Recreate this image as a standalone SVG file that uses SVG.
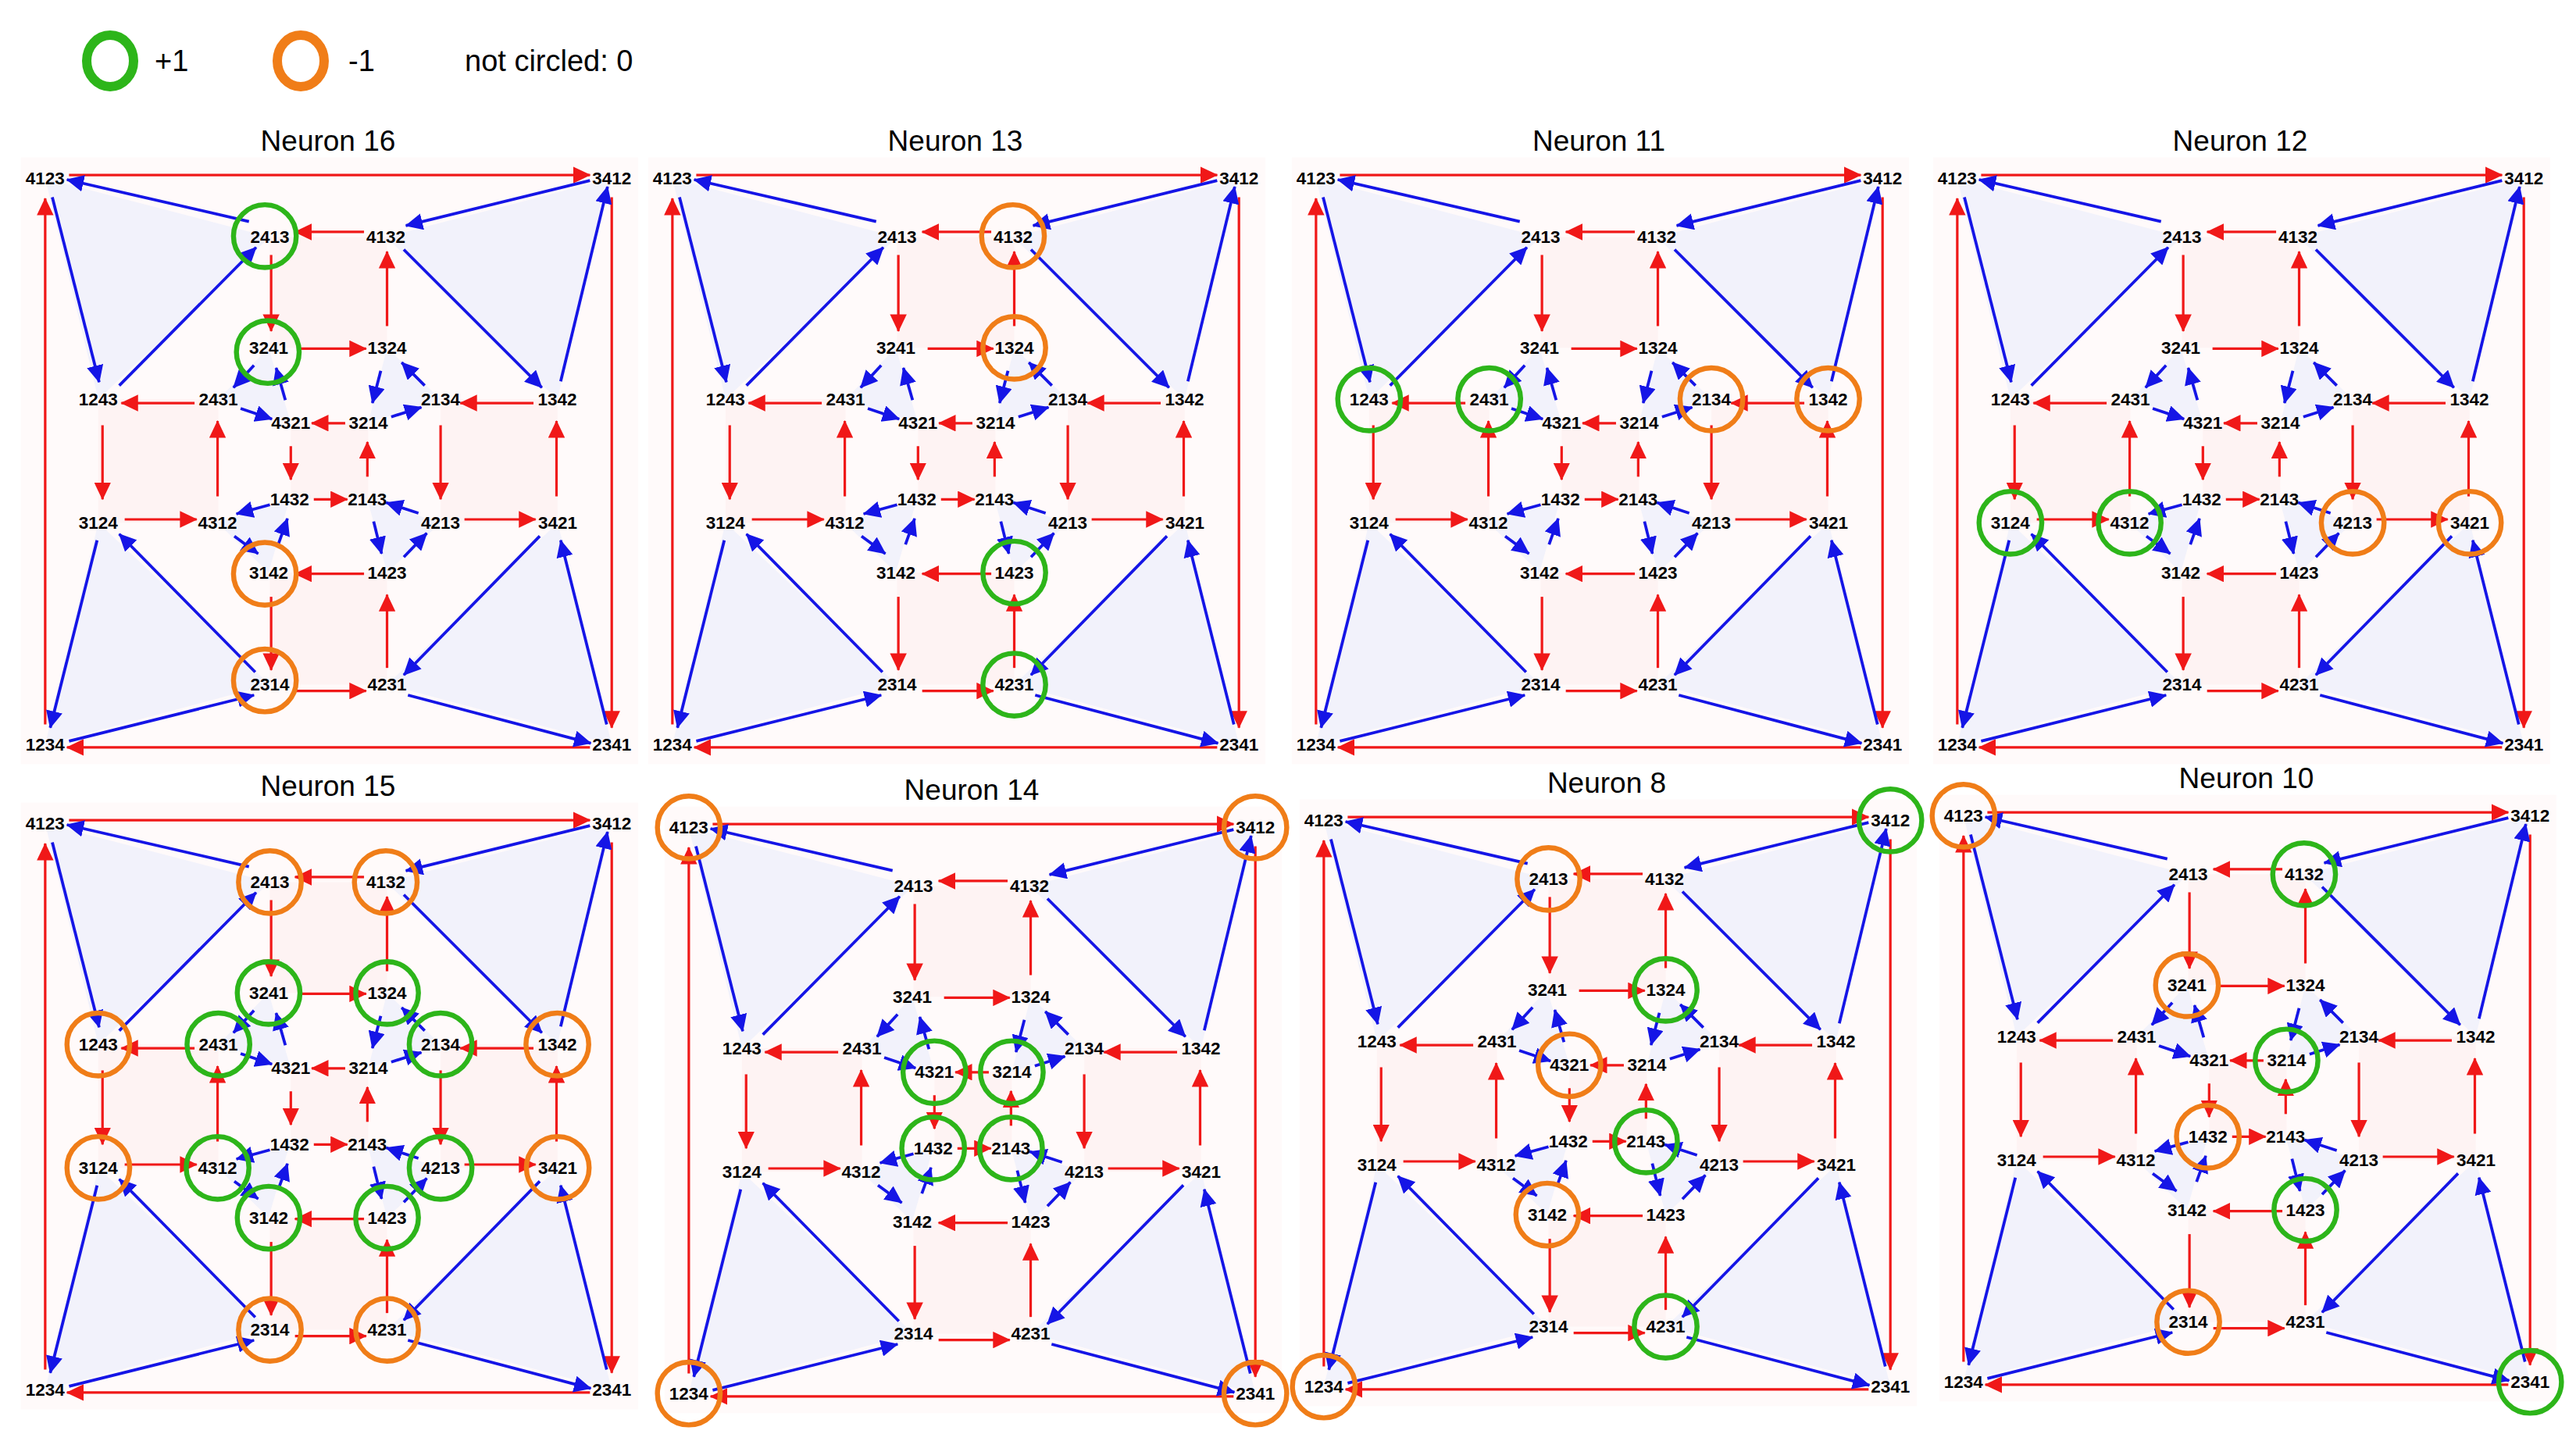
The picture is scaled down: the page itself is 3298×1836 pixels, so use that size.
<svg xmlns="http://www.w3.org/2000/svg" xmlns:xlink="http://www.w3.org/1999/xlink" width="3298" height="1836" viewBox="0 0 3298 1836">
<style>
.t{font-family:"Liberation Sans",Arial,sans-serif;font-weight:bold;font-size:42px;text-anchor:middle;dominant-baseline:central;fill:#000}
.title{font-family:"Liberation Sans",Arial,sans-serif;font-size:37px;text-anchor:middle;fill:#000}
.leg{font-family:"Liberation Sans",Arial,sans-serif;font-size:38px;fill:#000;dominant-baseline:central}
.r{stroke:#f01818;stroke-width:6;fill:none;marker-end:url(#ar)}
.b{stroke:#1515e6;stroke-width:7;fill:none;marker-end:url(#ab)}
.tri{fill:#f2f2fb}
.sq{fill:#fdeeee;opacity:.6}
.g{fill:none;stroke:#2db51a;stroke-width:12}
.o{fill:none;stroke:#f07d18;stroke-width:12}
</style>
<defs>
<marker id="ar" markerUnits="userSpaceOnUse" markerWidth="44" markerHeight="40" refX="40" refY="20" orient="auto"><path d="M0,0 L42,20 L0,40 z" fill="#f01818"/></marker>
<marker id="ab" markerUnits="userSpaceOnUse" markerWidth="44" markerHeight="40" refX="40" refY="20" orient="auto"><path d="M0,0 L42,20 L0,40 z" fill="#1515e6"/></marker>
<g id="base">
<rect x="50" y="115" width="1475" height="1450" fill="#fffafa"/>
<g id="shading">
<polygon class="sq" points="645,305 925,305 925,570 645,570"/>
<polygon class="sq" points="235,693 522,693 522,988 235,988"/>
<polygon class="sq" points="1053,693 1332,693 1332,988 1053,988"/>
<polygon class="sq" points="645,1107 925,1107 925,1375 645,1375"/>
<polygon class="sq" points="695,750 880,750 880,932 695,932"/>
<polygon class="tri" points="108,165 235,693 645,305"/>
<polygon class="tri" points="1462,165 1332,693 922,305"/>
<polygon class="tri" points="108,1518 235,988 645,1375"/>
<polygon class="tri" points="1462,1518 1333,988 925,1375"/>
<polygon class="tri" points="522,693 642,570 695,750"/>
<polygon class="tri" points="925,570 1053,693 880,750"/>
<polygon class="tri" points="520,988 692,932 642,1107"/>
<polygon class="tri" points="878,932 1053,988 925,1107"/>
</g>
<g id="connectors">
<line class="r" x1="165" y1="157" x2="1410" y2="157"/>
<line class="r" x1="1462" y1="210" x2="1462" y2="1478"/>
<line class="r" x1="1410" y1="1525" x2="160" y2="1525"/>
<line class="r" x1="108" y1="1470" x2="108" y2="213"/>
<line class="r" x1="870" y1="293" x2="705" y2="293"/>
<line class="r" x1="648" y1="348" x2="648" y2="530"/>
<line class="r" x1="718" y1="572" x2="875" y2="572"/>
<line class="r" x1="925" y1="518" x2="925" y2="340"/>
<line class="r" x1="1275" y1="702" x2="1100" y2="702"/>
<line class="r" x1="465" y1="702" x2="290" y2="702"/>
<line class="r" x1="245" y1="755" x2="245" y2="932"/>
<line class="r" x1="520" y1="925" x2="520" y2="745"/>
<line class="r" x1="825" y1="750" x2="745" y2="750"/>
<line class="r" x1="695" y1="805" x2="695" y2="885"/>
<line class="r" x1="878" y1="878" x2="878" y2="795"/>
<line class="r" x1="1053" y1="755" x2="1053" y2="932"/>
<line class="r" x1="1330" y1="925" x2="1330" y2="745"/>
<line class="r" x1="298" y1="980" x2="470" y2="980"/>
<line class="r" x1="750" y1="932" x2="830" y2="932"/>
<line class="r" x1="1110" y1="980" x2="1280" y2="980"/>
<line class="r" x1="870" y1="1110" x2="705" y2="1110"/>
<line class="r" x1="648" y1="1165" x2="648" y2="1340"/>
<line class="r" x1="925" y1="1335" x2="925" y2="1160"/>
<line class="r" x1="705" y1="1390" x2="875" y2="1390"/>
<line class="b" x1="595" y1="268" x2="160" y2="168"/>
<line class="b" x1="125" y1="210" x2="237" y2="652"/>
<line class="b" x1="285" y1="660" x2="612" y2="330"/>
<line class="b" x1="1410" y1="170" x2="970" y2="278"/>
<line class="b" x1="965" y1="335" x2="1295" y2="665"/>
<line class="b" x1="1340" y1="650" x2="1452" y2="185"/>
<line class="b" x1="607" y1="612" x2="558" y2="665"/>
<line class="b" x1="575" y1="715" x2="650" y2="740"/>
<line class="b" x1="682" y1="695" x2="660" y2="618"/>
<line class="b" x1="910" y1="625" x2="890" y2="702"/>
<line class="b" x1="935" y1="735" x2="1007" y2="712"/>
<line class="b" x1="1015" y1="660" x2="960" y2="605"/>
<line class="b" x1="645" y1="945" x2="565" y2="967"/>
<line class="b" x1="560" y1="1020" x2="617" y2="1062"/>
<line class="b" x1="665" y1="1040" x2="687" y2="978"/>
<line class="b" x1="1000" y1="965" x2="923" y2="940"/>
<line class="b" x1="893" y1="985" x2="912" y2="1062"/>
<line class="b" x1="965" y1="1070" x2="1020" y2="1013"/>
<line class="b" x1="610" y1="1345" x2="285" y2="1015"/>
<line class="b" x1="232" y1="1030" x2="120" y2="1478"/>
<line class="b" x1="165" y1="1510" x2="607" y2="1400"/>
<line class="b" x1="1290" y1="1020" x2="965" y2="1352"/>
<line class="b" x1="975" y1="1400" x2="1412" y2="1515"/>
<line class="b" x1="1450" y1="1470" x2="1340" y2="1030"/>
</g>
<g id="nodes">
<g id="n4123"><text class="t" x="108" y="165">4123</text></g>
<g id="n3412"><text class="t" x="1462" y="165">3412</text></g>
<g id="n1234"><text class="t" x="108" y="1518">1234</text></g>
<g id="n2341"><text class="t" x="1462" y="1518">2341</text></g>
<g id="n2413"><text class="t" x="645" y="305">2413</text></g>
<g id="n4132"><text class="t" x="922" y="305">4132</text></g>
<g id="n3241"><text class="t" x="642" y="570">3241</text></g>
<g id="n1324"><text class="t" x="925" y="570">1324</text></g>
<g id="n1243"><text class="t" x="235" y="693">1243</text></g>
<g id="n2431"><text class="t" x="522" y="693">2431</text></g>
<g id="n2134"><text class="t" x="1053" y="693">2134</text></g>
<g id="n1342"><text class="t" x="1332" y="693">1342</text></g>
<g id="n4321"><text class="t" x="695" y="750">4321</text></g>
<g id="n3214"><text class="t" x="880" y="750">3214</text></g>
<g id="n1432"><text class="t" x="692" y="932">1432</text></g>
<g id="n2143"><text class="t" x="878" y="932">2143</text></g>
<g id="n3124"><text class="t" x="235" y="988">3124</text></g>
<g id="n4312"><text class="t" x="520" y="988">4312</text></g>
<g id="n4213"><text class="t" x="1053" y="988">4213</text></g>
<g id="n3421"><text class="t" x="1333" y="988">3421</text></g>
<g id="n3142"><text class="t" x="642" y="1107">3142</text></g>
<g id="n1423"><text class="t" x="925" y="1107">1423</text></g>
<g id="n2314"><text class="t" x="645" y="1375">2314</text></g>
<g id="n4231"><text class="t" x="925" y="1375">4231</text></g>
</g>
</g>
<circle id="cg" class="g" r="75"/>
<circle id="co" class="o" r="75"/>
</defs>
<rect width="3298" height="1836" fill="#fff"/>
<g id="legend">
<ellipse class="g" cx="141" cy="78" rx="30" ry="33" stroke-width="7"/>
<text class="leg" x="198" y="78">+1</text>
<ellipse class="o" cx="385" cy="78" rx="30" ry="33" stroke-width="7"/>
<text class="leg" x="446" y="78">-1</text>
<text class="leg" x="595" y="78">not circled: 0</text>
</g>
<text class="title" x="420" y="193">Neuron 16</text>
<text class="title" x="1223" y="193">Neuron 13</text>
<text class="title" x="2047" y="193">Neuron 11</text>
<text class="title" x="2868" y="193">Neuron 12</text>
<text class="title" x="420" y="1019">Neuron 15</text>
<text class="title" x="1244" y="1024">Neuron 14</text>
<text class="title" x="2057" y="1015">Neuron 8</text>
<text class="title" x="2876" y="1009">Neuron 10</text>
<g id="p16" transform="translate(0,140) scale(0.5357)">
<use xlink:href="#base"/>
<use xlink:href="#cg" x="633" y="303"/><use xlink:href="#cg" x="640" y="580"/>
<use xlink:href="#co" x="633" y="1110"/><use xlink:href="#co" x="633" y="1365"/>
</g>
<g id="p13" transform="translate(803,140) scale(0.5357)">
<use xlink:href="#base"/>
<use xlink:href="#co" x="922" y="303"/><use xlink:href="#co" x="925" y="570"/>
<use xlink:href="#cg" x="925" y="1107"/><use xlink:href="#cg" x="925" y="1375"/>
</g>
<g id="p11" transform="translate(1627,140) scale(0.5357)">
<use xlink:href="#base"/>
<use xlink:href="#cg" x="235" y="693"/><use xlink:href="#cg" x="522" y="693"/>
<use xlink:href="#co" x="1053" y="693"/><use xlink:href="#co" x="1332" y="693"/>
</g>
<g id="p12" transform="translate(2448,140) scale(0.5357)">
<use xlink:href="#base"/>
<use xlink:href="#cg" x="235" y="988"/><use xlink:href="#cg" x="520" y="988"/>
<use xlink:href="#co" x="1053" y="988"/><use xlink:href="#co" x="1333" y="988"/>
</g>
<g id="p15" transform="translate(0,966) scale(0.5357)">
<use xlink:href="#base"/>
<use xlink:href="#co" x="645" y="305"/><use xlink:href="#co" x="922" y="305"/>
<use xlink:href="#co" x="235" y="693"/><use xlink:href="#co" x="1332" y="693"/>
<use xlink:href="#co" x="235" y="988"/><use xlink:href="#co" x="1333" y="988"/>
<use xlink:href="#co" x="645" y="1375"/><use xlink:href="#co" x="925" y="1375"/>
<use xlink:href="#cg" x="642" y="570"/><use xlink:href="#cg" x="925" y="570"/>
<use xlink:href="#cg" x="522" y="693"/><use xlink:href="#cg" x="1053" y="693"/>
<use xlink:href="#cg" x="520" y="988"/><use xlink:href="#cg" x="1053" y="988"/>
<use xlink:href="#cg" x="642" y="1107"/><use xlink:href="#cg" x="925" y="1107"/>
</g>
<g id="p14" transform="translate(824,971) scale(0.5357)">
<use xlink:href="#base"/>
<use xlink:href="#co" x="108" y="165"/><use xlink:href="#co" x="1462" y="165"/>
<use xlink:href="#co" x="108" y="1518"/><use xlink:href="#co" x="1462" y="1518"/>
<use xlink:href="#cg" x="695" y="750"/><use xlink:href="#cg" x="880" y="750"/>
<use xlink:href="#cg" x="692" y="932"/><use xlink:href="#cg" x="878" y="932"/>
</g>
<g id="p8" transform="translate(1637,962) scale(0.5357)">
<use xlink:href="#base"/>
<use xlink:href="#cg" x="1462" y="165"/><use xlink:href="#cg" x="925" y="570"/>
<use xlink:href="#cg" x="878" y="932"/><use xlink:href="#cg" x="925" y="1375"/>
<use xlink:href="#co" x="645" y="305"/><use xlink:href="#co" x="695" y="750"/>
<use xlink:href="#co" x="642" y="1107"/><use xlink:href="#co" x="108" y="1518"/>
</g>
<g id="p10" transform="translate(2456,956) scale(0.5357)">
<use xlink:href="#base"/>
<use xlink:href="#co" x="108" y="165"/><use xlink:href="#co" x="642" y="570"/>
<use xlink:href="#co" x="692" y="932"/><use xlink:href="#co" x="645" y="1375"/>
<use xlink:href="#cg" x="922" y="305"/><use xlink:href="#cg" x="880" y="750"/>
<use xlink:href="#cg" x="925" y="1107"/><use xlink:href="#cg" x="1462" y="1518"/>
</g>
</svg>
